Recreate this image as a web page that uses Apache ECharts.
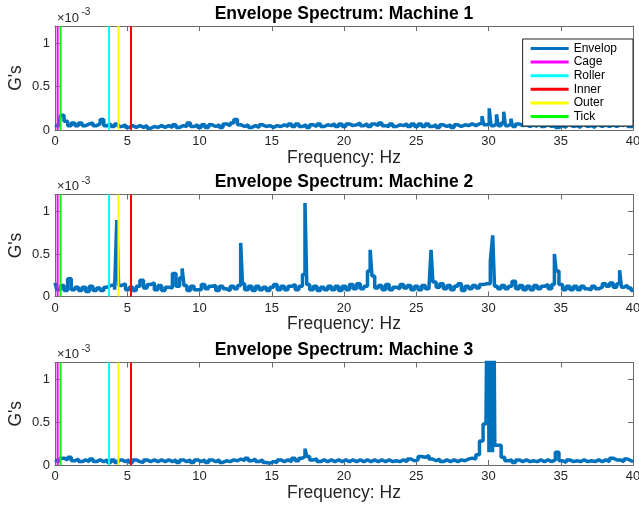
<!DOCTYPE html>
<html><head><meta charset="utf-8">
<script src="https://cdn.jsdelivr.net/npm/echarts@6/dist/echarts.min.js"></script>
<style>html,body{margin:0;padding:0;background:#fff}#c{width:639px;height:508px}</style>
</head><body><div id="c"></div>
<script>
// ---- data (amplitudes in units of 1e-3 G) ----
const machineNames = ['Envelope Spectrum: Machine 1', 'Envelope Spectrum: Machine 2', 'Envelope Spectrum: Machine 3'];
const freqStep = 0.25; // Hz between baseline samples (0 .. 40 Hz)
const xTicks = [0, 5, 10, 15, 20, 25, 30, 35, 40];
const yTicks = [0, 0.5, 1];

const machine1Base = [
  0.06,0.04,0.17,0.10, 0.05,0.08,0.05,0.08, 0.05,0.07,0.08,0.05, 0.07,0.12,0.05,0.07,
  0.04,0.07,0.04,0.06, 0.03,0.05,0.03,0.05, 0.03,0.05,0.02,0.04, 0.03,0.05,0.03,0.05,
  0.03,0.06,0.03,0.05, 0.04,0.08,0.04,0.06, 0.03,0.06,0.03,0.06, 0.04,0.06,0.03,0.07,
  0.05,0.08,0.12,0.06, 0.04,0.06,0.03,0.05, 0.03,0.06,0.04,0.05, 0.03,0.05,0.04,0.06,
  0.04,0.07,0.04,0.07, 0.04,0.06,0.03,0.06, 0.04,0.07,0.04,0.06, 0.05,0.07,0.04,0.07,
  0.04,0.07,0.05,0.06, 0.08,0.05,0.07,0.04, 0.07,0.05,0.08,0.05, 0.04,0.07,0.04,0.06,
  0.05,0.07,0.04,0.07, 0.04,0.07,0.04,0.07, 0.04,0.06,0.03,0.06, 0.04,0.06,0.03,0.06,
  0.04,0.06,0.05,0.07, 0.05,0.07,0.08,0.06, 0.07,0.05,0.07,0.05, 0.08,0.05,0.07,0.04,
  0.07,0.05,0.06,0.04, 0.06,0.04,0.07,0.04, 0.06,0.04,0.06,0.03, 0.05,0.03,0.06,0.04,
  0.05,0.03,0.06,0.04, 0.05,0.03,0.06,0.04, 0.06,0.04,0.06,0.04, 0.06,0.05,0.10,0.04,
  0.04
];
const machine1Peaks = [[29.6,0.16],[30.1,0.25],[30.6,0.18],[31.1,0.21],[31.6,0.13]];

const machine2Base = [
  0.16,0.08,0.13,0.07, 0.21,0.08,0.11,0.07, 0.11,0.06,0.12,0.07, 0.10,0.07,0.11,0.13,
  0.14,0.08,0.13,0.15, 0.08,0.11,0.07,0.12, 0.19,0.10,0.14,0.16, 0.08,0.13,0.07,0.11,
  0.10,0.27,0.12,0.22, 0.13,0.07,0.12,0.08, 0.08,0.14,0.09,0.12, 0.13,0.07,0.12,0.09,
  0.07,0.12,0.09,0.13, 0.15,0.08,0.12,0.07, 0.12,0.08,0.11,0.07, 0.11,0.14,0.08,0.12,
  0.08,0.12,0.14,0.08, 0.12,0.26,0.14,0.08, 0.12,0.07,0.11,0.08, 0.12,0.08,0.12,0.07,
  0.12,0.08,0.14,0.09, 0.15,0.09,0.12,0.30, 0.24,0.10,0.13,0.08, 0.14,0.08,0.11,0.09,
  0.14,0.10,0.13,0.08, 0.12,0.08,0.13,0.09, 0.10,0.17,0.11,0.15, 0.09,0.13,0.08,0.12,
  0.15,0.07,0.12,0.09, 0.13,0.10,0.14,0.15, 0.15,0.42,0.12,0.09, 0.13,0.09,0.12,0.18,
  0.09,0.13,0.08,0.12, 0.08,0.13,0.09,0.12, 0.14,0.09,0.14,0.30, 0.14,0.08,0.12,0.08,
  0.12,0.08,0.12,0.09, 0.08,0.12,0.09,0.11, 0.15,0.12,0.16,0.11, 0.15,0.11,0.13,0.10,
  0.07
];
const machine2Peaks = [[4.3,0.9],[8.85,0.33],[12.95,0.63],[17.35,1.1],[21.87,0.55],[26.05,0.55],[30.33,0.72],[34.62,0.5],[39.15,0.31]];

const machine3Base = [
  0.06,0.04,0.08,0.06, 0.09,0.05,0.07,0.04, 0.06,0.04,0.07,0.04, 0.06,0.04,0.06,0.03,
  0.06,0.03,0.06,0.04, 0.06,0.03,0.06,0.04, 0.03,0.06,0.04,0.06, 0.04,0.06,0.04,0.06,
  0.04,0.06,0.03,0.06, 0.04,0.06,0.03,0.06, 0.04,0.06,0.03,0.06, 0.04,0.06,0.03,0.05,
  0.04,0.06,0.05,0.07, 0.05,0.08,0.05,0.07, 0.04,0.06,0.03,0.02, 0.04,0.03,0.06,0.04,
  0.06,0.04,0.08,0.05, 0.08,0.10,0.10,0.06, 0.07,0.04,0.06,0.04, 0.06,0.04,0.06,0.04,
  0.06,0.04,0.06,0.04, 0.06,0.04,0.06,0.04, 0.06,0.04,0.06,0.04, 0.06,0.04,0.05,0.04,
  0.06,0.04,0.07,0.05, 0.06,0.10,0.09,0.11, 0.07,0.05,0.07,0.04, 0.06,0.04,0.06,0.04,
  0.06,0.05,0.07,0.08, 0.07,0.12,0.28,0.48, 3.00,3.00,0.23,0.23, 0.09,0.05,0.06,0.03,
  0.06,0.04,0.06,0.04, 0.05,0.04,0.06,0.04, 0.06,0.04,0.06,0.15, 0.05,0.03,0.06,0.04,
  0.05,0.04,0.06,0.04, 0.05,0.04,0.06,0.04, 0.06,0.04,0.08,0.06, 0.06,0.04,0.07,0.05,
  0.04
];
const machine3Peaks = [[17.35,0.19],[29.9,0.48],[30.06,0.15],[30.12,2.8],[30.18,0.2],[30.31,0.15],[30.37,2.8]];

const bearingNames = ['Cage', 'Roller', 'Inner', 'Outer', 'Tick'];
const bearingFreqs = [0.18, 3.74, 5.26, 4.39, 0.38];
const bearingColors = ['#ff00ff', '#00ffff', '#ff0000', '#ffff00', '#00ff00'];

// ---- build ----
function buildSeriesData(base, peaks) {
  const pts = base.map((v, i) => [+(i * freqStep).toFixed(2), v]);
  return pts.concat(peaks).sort((a, b) => a[0] - b[0]);
}
const machines = [
  buildSeriesData(machine1Base, machine1Peaks),
  buildSeriesData(machine2Base, machine2Peaks),
  buildSeriesData(machine3Base, machine3Peaks)
];

const FONT = '"Liberation Sans", Helvetica, Arial, sans-serif';
const gridTops = [26, 194.5, 362.5];
const gridHeights = [104, 102, 102.5];
const axisCol = '#6b6b6b';
const textCol = '#262626';

const grid = [], xAxis = [], yAxis = [], series = [], title = [], graphic = [];
machines.forEach((data, g) => {
  grid.push({left: 55, width: 578, top: gridTops[g], height: gridHeights[g], containLabel: false, outerBoundsMode: 'none'});
  const tickCommon = {show: true, inside: true, length: 5, lineStyle: {color: axisCol}};
  xAxis.push({
    gridIndex: g, type: 'value', min: 0, max: 40, interval: 5, position: 'bottom',
    axisLine: {show: true, onZero: false, lineStyle: {color: axisCol, width: 1}},
    axisTick: tickCommon, splitLine: {show: false},
    axisLabel: {fontSize: 13, color: textCol, fontFamily: FONT, margin: 5, hideOverlap: false,
      formatter: v => (xTicks.indexOf(v) >= 0 ? String(v) : '')},
    name: 'Frequency: Hz', nameLocation: 'middle', nameGap: 19, nameMoveOverlap: false,
    nameTextStyle: {fontSize: 17.5, color: textCol, fontFamily: FONT}
  });
  xAxis.push({
    gridIndex: g, type: 'value', min: 0, max: 40, interval: 5, position: 'top',
    axisLine: {show: true, onZero: false, lineStyle: {color: axisCol, width: 1}},
    axisTick: tickCommon, axisLabel: {show: false}, splitLine: {show: false}
  });
  yAxis.push({
    gridIndex: g, type: 'value', min: 0, max: 1.2, interval: 0.5, position: 'left',
    axisLine: {show: true, onZero: false, lineStyle: {color: axisCol, width: 1}},
    axisTick: tickCommon, splitLine: {show: false},
    axisLabel: {fontSize: 13, color: textCol, fontFamily: FONT, margin: 5, showMaxLabel: false,
      formatter: v => (yTicks.indexOf(v) >= 0 ? String(v) : '')},
    name: "G's", nameLocation: 'middle', nameGap: 30, nameRotate: 90, nameMoveOverlap: false,
    nameTextStyle: {fontSize: 17.5, color: textCol, fontFamily: FONT}
  });
  yAxis.push({
    gridIndex: g, type: 'value', min: 0, max: 1.2, interval: 0.5, position: 'right',
    axisLine: {show: true, onZero: false, lineStyle: {color: axisCol, width: 1}},
    axisTick: tickCommon, axisLabel: {show: false}, splitLine: {show: false}
  });
  series.push({
    name: 'Envelop', type: 'line', xAxisIndex: 2 * g, yAxisIndex: 2 * g,
    data: data, step: 'middle', symbol: 'none', clip: true, silent: true,
    lineStyle: {color: '#0072bd', width: 3.5, join: 'bevel'}, itemStyle: {color: '#0072bd'}, z: 2
  });
  bearingNames.forEach((nm, k) => {
    series.push({
      name: nm, type: 'line', xAxisIndex: 2 * g, yAxisIndex: 2 * g,
      data: [[bearingFreqs[k], 0], [bearingFreqs[k], 1.2]], symbol: 'none', silent: true,
      lineStyle: {color: bearingColors[k], width: 2}, itemStyle: {color: bearingColors[k]}, z: 3
    });
  });
  title.push({
    text: machineNames[g], left: 344, textAlign: 'center', top: gridTops[g] - 21, padding: 0,
    textStyle: {fontSize: 17.5, fontWeight: 'bold', color: '#000', fontFamily: FONT}
  });
  graphic.push({type: 'text', x: 57, y: gridTops[g] - 8, style: {text: '×10', font: '13px ' + FONT, fill: textCol, verticalAlign: 'middle'}});
  graphic.push({type: 'text', x: 81.5, y: gridTops[g] - 13.5, style: {text: '-3', font: '10px ' + FONT, fill: textCol, verticalAlign: 'middle'}});
});

const chart = echarts.init(document.getElementById('c'), null, {renderer: 'canvas'});
chart.setOption({
  animation: false,
  backgroundColor: '#fff',
  title: title,
  grid: grid, xAxis: xAxis, yAxis: yAxis, series: series, graphic: graphic,
  legend: {
    show: true, orient: 'vertical', right: 6, top: 39,
    data: ['Envelop'].concat(bearingNames),
    icon: 'rect', itemWidth: 38, itemHeight: 3, itemGap: 0.6,
    padding: [3, 16, 3, 8], backgroundColor: '#fff', borderColor: '#222', borderWidth: 1,
    textStyle: {fontSize: 12, color: '#000', fontFamily: FONT, lineHeight: 13}
  }
});
</script></body></html>
